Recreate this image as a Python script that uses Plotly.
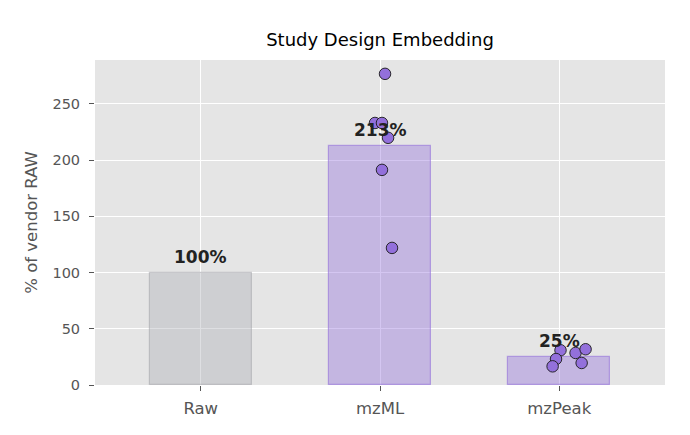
import plotly.graph_objects as go

categories = ["Raw", "mzML", "mzPeak"]
bar_values = [100, 212.6, 25.1]
bar_labels = ["100%", "213%", "25%"]

mzml_y = [276.7, 233.0, 233.0, 219.8, 191.3, 121.9]
mzml_jitter = [0.028, -0.028, 0.011, 0.045, 0.011, 0.067]
mzpeak_y = [30.9, 23.1, 16.6, 28.5, 31.8, 19.6]
mzpeak_jitter = [0.007, -0.018, -0.037, 0.091, 0.147, 0.125]

fill_colors = ["rgba(169,172,178,0.38)", "rgba(147,112,219,0.4)", "rgba(147,112,219,0.4)"]
line_colors = ["rgba(160,160,165,0.5)", "rgba(147,112,219,0.6)", "rgba(147,112,219,0.6)"]

xpos = list(range(len(categories)))

fig = go.Figure()
fig.add_trace(go.Bar(
    x=xpos, y=bar_values, width=0.57,
    marker=dict(color=fill_colors, line=dict(color=line_colors, width=1.2)),
    showlegend=False, hoverinfo="skip",
))
fig.add_trace(go.Scatter(
    x=[1 + j for j in mzml_jitter], y=mzml_y, mode="markers",
    marker=dict(size=11.5, color="#9370DB", line=dict(color="#1a1a1a", width=0.9)),
    showlegend=False,
))
fig.add_trace(go.Scatter(
    x=[2 + j for j in mzpeak_jitter], y=mzpeak_y, mode="markers",
    marker=dict(size=11.5, color="#9370DB", line=dict(color="#1a1a1a", width=0.9)),
    showlegend=False,
))

fig.add_shape(type="line", xref="paper", x0=0, x1=1, y0=100, y1=100,
              line=dict(color="rgba(255,255,255,0.75)", width=1, dash="dash"), layer="below")

for x, v, lab in zip(xpos, bar_values, bar_labels):
    fig.add_annotation(x=x, y=v, text="<b>%s</b>" % lab, showarrow=False,
                       yanchor="bottom", yshift=4,
                       font=dict(size=17, color="#222222", family="DejaVu Sans"))

fig.update_layout(
    width=690, height=435,
    margin=dict(l=95, r=25, t=60, b=50),
    paper_bgcolor="white", plot_bgcolor="#E5E5E5",
    font=dict(family="DejaVu Sans", color="#555555"),
    title=dict(text="Study Design Embedding", x=0.5, xref="paper", y=1 - 40 / 435,
               yref="container", yanchor="middle",
               font=dict(size=18, color="black", family="DejaVu Sans")),
    bargap=0,
)
fig.update_xaxes(
    range=[-0.59, 2.59], tickvals=xpos, ticktext=categories,
    showgrid=True, gridcolor="white", gridwidth=1.2, zeroline=False,
    ticks="outside", ticklen=5, tickcolor="#555555",
    tickfont=dict(size=16.5, color="#555555"), showline=False,
    ticklabelstandoff=3,
)
fig.update_yaxes(
    range=[0, 289], tickvals=[0, 50, 100, 150, 200, 250],
    showgrid=True, gridcolor="white", gridwidth=1.2, zeroline=False,
    ticks="outside", ticklen=5, tickcolor="#555555",
    tickfont=dict(size=14.5, color="#555555"),
    ticklabelstandoff=6,
    title=dict(text="% of vendor RAW", font=dict(size=16.5, color="#555555"), standoff=10),
)

fig.write_html("out.html")
